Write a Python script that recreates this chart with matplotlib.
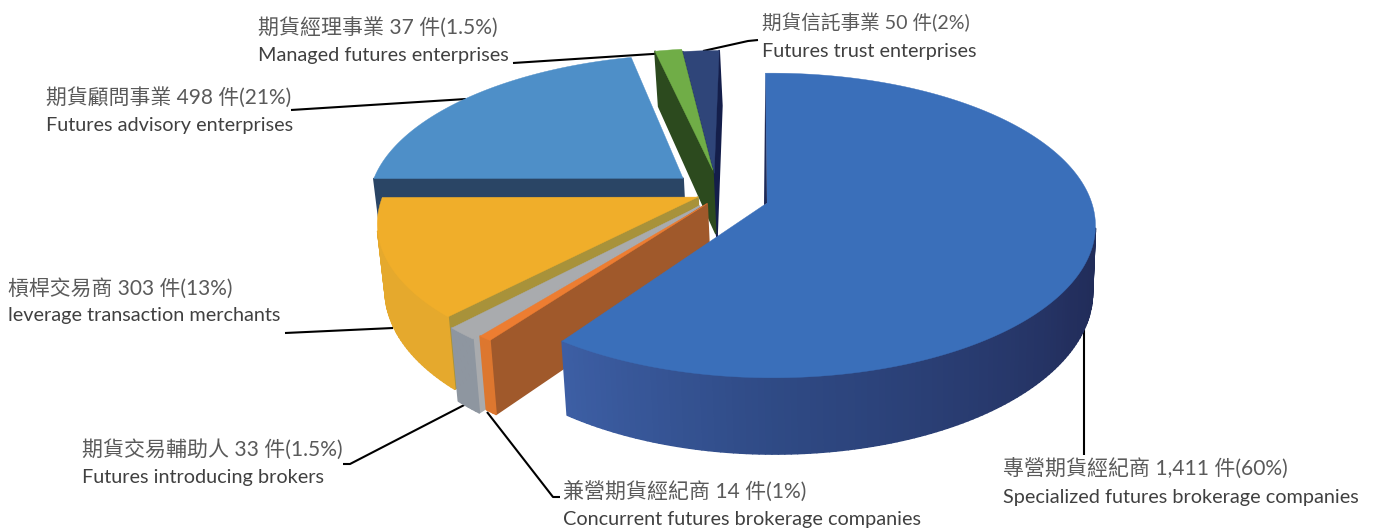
"""Exploded 3D pie of futures enterprise licences, drawn from a small perspective model."""
import numpy as np
import matplotlib
matplotlib.use('Agg')
import matplotlib.pyplot as plt
from matplotlib.colors import to_rgb
from matplotlib.patches import Polygon

plt.rcParams['font.family'] = ['Lato', 'Noto Sans CJK TC', 'DejaVu Sans']

SLICES = ['brokerage', 'concurrent', 'introducing', 'leverage', 'advisory', 'managed', 'trust']
COUNTS = [1411, 14, 33, 303, 498, 37, 50]
LABELS_ZH = ['專營期貨經紀商 1,411 件(60%)', '兼營期貨經紀商 14 件(1%)', '期貨交易輔助人 33 件(1.5%)',
             '槓桿交易商 303 件(13%)', '期貨顧問事業 498 件(21%)', '期貨經理事業 37 件(1.5%)',
             '期貨信託事業 50 件(2%)']
LABELS_EN = ['Specialized futures brokerage companies', 'Concurrent futures brokerage companies',
             'Futures introducing brokers', 'leverage transaction merchants',
             'Futures advisory enterprises', 'Managed futures enterprises', 'Futures trust enterprises']

# explosion offset of every slice on the pie plane
OFFSET_X = [0.0, -0.187, -0.21, -0.217, -0.269, -0.175, -0.17]
OFFSET_Y = [0.0, -0.005, -0.02, 0.04, 0.17, 0.227, 0.205]
# the rim sits a little right of the apex on the front slices
RIM_SHIFT = [0.015, 0.015, 0.02, 0.008, 0.01, 0.0, 0.0]
ANGLE_SHIFT = [-0.85, 0, 0, 0, 0, 0, 0]
TOP_COLORS = ['#3A6FBA', '#ED7D31', '#A9ABAE', '#F0AE2A', '#4E8FC8', '#70AD47', '#2F4579']
OUTER_COLORS = ['#2F4A85', '#DD772F', '#8E96A0', '#E5A92D', '#2A4565', '#2C4A1E', '#1B2A5C']
START_COLORS = ['#1E2A58', '#A0592B', '#A9ABAE', '#A8923A', '#2A4565', '#2C4A1E', '#141E4A']
END_COLORS = ['#2F4A85', '#A0592B', '#8E96A0', '#C99A30', '#2A4565', '#2C4A1E', '#141E4A']
WALL_STOPS = [90, 120, 180, 216]
WALL_STOP_COLORS = ['#1F2A55', '#232F5E', '#2F4A85', '#3D5FA5']

# projection constants, in pixels
CX, CY = 767, 203
AY, BX, K, HT = 149, 320, 0.1475, 65
VX, TILT = 900, 0.015
START_ANGLE = -0.35


def project(x, y, z=0.0):
    d = 1 + K * y
    px = CX + BX * x / d
    py = CY - AY * y / d + HT * z / d
    return VX + (px - VX) * (1 - TILT * z), py


def signed_area(p):
    p = np.array(p)
    a, b = p[:, 0], p[:, 1]
    return 0.5 * np.sum(a * np.roll(b, -1) - np.roll(a, -1) * b)


def wall_color(theta):
    rgb = np.array([to_rgb(c) for c in WALL_STOP_COLORS])
    return [np.interp(theta, WALL_STOPS, rgb[:, i]) for i in range(3)]


def draw_slice(ax, idx, a0, a1, zorder):
    ox, oy = OFFSET_X[idx], OFFSET_Y[idx]
    rx = ox + RIM_SHIFT[idx]
    n = max(2, int(abs(a1 - a0)) + 2)
    thetas = np.linspace(a0, a1, n)
    ring = [(rx + np.sin(np.radians(t)), oy + np.cos(np.radians(t))) for t in thetas]
    outline = [(ox, oy)] + ring

    for i in range(len(outline)):
        p, q = outline[i], outline[(i + 1) % len(outline)]
        quad = [project(*p), project(*q), project(*q, 1), project(*p, 1)]
        if signed_area(quad) >= 0:
            continue
        if i == 0:
            col = START_COLORS[idx]
        elif i == len(outline) - 1:
            col = END_COLORS[idx]
        elif idx == 0:
            col = wall_color((thetas[i - 1] + thetas[i]) / 2)
        else:
            col = OUTER_COLORS[idx]
        ax.add_patch(Polygon(quad, closed=True, facecolor=col, edgecolor=col,
                             linewidth=1.2, joinstyle='round', zorder=zorder))

    top = [project(*p) for p in outline]
    ax.add_patch(Polygon(top, closed=True, facecolor=TOP_COLORS[idx], edgecolor=TOP_COLORS[idx],
                         linewidth=0.3, zorder=zorder + 1))
    if idx == 0:
        # thin dark sliver along the first cut of the big slice
        apex, rim = project(ox, oy), project(*ring[0])
        sliver = [rim, (apex[0] - 3, apex[1] + 2), apex]
        ax.add_patch(Polygon(sliver, closed=True, facecolor=START_COLORS[0], edgecolor='none',
                             zorder=zorder + 1))


fig = plt.figure(figsize=(13.78, 5.30), dpi=100)
ax = fig.add_axes([0, 0, 1, 1])
ax.set_xlim(0, 1378)
ax.set_ylim(530, 0)
ax.axis('off')

edges = np.cumsum([0] + COUNTS) / sum(COUNTS) * 360 + START_ANGLE
# back slices first, the big front slice last
paint_order = [6, 5, 4, 3, 2, 1, 0]
for z, i in enumerate(paint_order):
    draw_slice(ax, i, edges[i] + ANGLE_SHIFT[i], edges[i + 1] + ANGLE_SHIFT[i], 2 + 2 * z)

# leader lines, same order as SLICES; they run under the pie
LEADERS = [
    [(1084, 318), (1084, 455)],
    [(487, 412), (553, 497), (560, 497)],
    [(470, 402), (350, 464), (343, 464)],
    [(393, 328), (285, 333)],
    [(466, 99), (291, 110)],
    [(668, 53), (513, 63)],
    [(703, 51), (748, 41), (758, 40)],
]
for pts in LEADERS:
    xs, ys = zip(*pts)
    ax.plot(xs, ys, color='black', linewidth=1.5, solid_capstyle='butt', zorder=1)

# text anchors: left x, y of Chinese row, y of English row
LABEL_X = [1003, 563, 82, 8, 46, 258, 762]
LABEL_Y_ZH = [469, 492, 449, 288, 97, 27, 22]
LABEL_Y_EN = [497, 520, 477, 316, 125, 56, 51]
ZH_SIZE = [15.1, 15.1, 15.1, 15.0, 15.0, 15.1, 14.1]
for i in range(len(SLICES)):
    ax.text(LABEL_X[i], LABEL_Y_ZH[i], LABELS_ZH[i], fontsize=ZH_SIZE[i], color='#5A5A5A',
            ha='left', va='center', zorder=31)
    ax.text(LABEL_X[i], LABEL_Y_EN[i], LABELS_EN[i], fontsize=14.35, color='#404040',
            ha='left', va='center', zorder=31)

fig.savefig('out.png', dpi=100)
